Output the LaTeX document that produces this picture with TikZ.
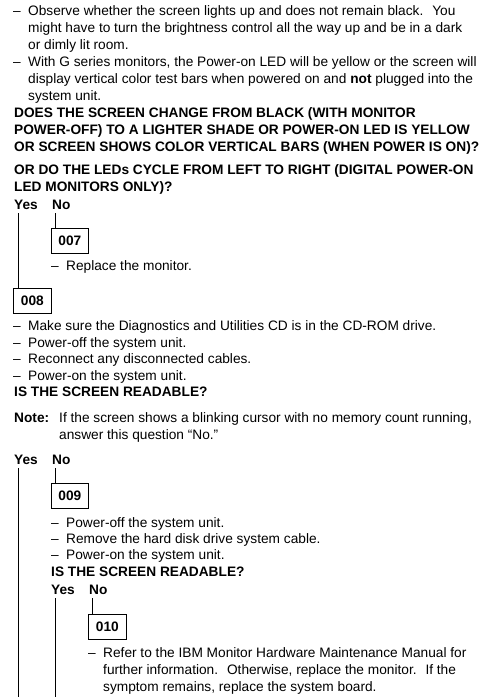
\documentclass[tikz,border=0pt]{standalone}
\usepackage{fontspec}
\setmainfont{Liberation Sans}
\usepackage{tikz}
\usetikzlibrary{positioning,calc}

\newcommand{\dsh}{\makebox[15pt][l]{–}}
\newcommand{\bodyfont}{\fontsize{13.7}{16}\selectfont}

\begin{document}
\begin{tikzpicture}[
    x=1pt, y=-1pt,
    txt/.style={anchor=base west, inner sep=0pt, font=\bodyfont},
    hd/.style={txt, font=\bodyfont\bfseries},
    yn/.style={hd, text depth=3.5pt},
    numbox/.style={draw, line width=0.8pt, anchor=north west, minimum width=37pt, minimum height=24.5pt, inner sep=0pt, font=\bodyfont\bfseries},
    link/.style={line width=0.8pt}
]
\useasboundingbox (0,0) rectangle (489,697);

% === first check ===
\node[txt] (t1) at (13,15.5) {\dsh Observe whether the screen lights up and does not remain black.~ You};
\node[txt] (t2) at (28,32.5) {might have to turn the brightness control all the way up and be in a dark};
\node[txt] (t3) at (28,49.5) {or dimly lit room.};
\node[txt] (t4) at (13,66.5) {\dsh With G series monitors, the Power-on LED will be yellow or the screen will};
\node[txt] (t5) at (28,83.5) {display vertical color test bars when powered on and \textbf{not} plugged into the};
\node[txt] (t6) at (28,100.5) {system unit.};

\node[hd] (q1) at (14,117.5) {DOES THE SCREEN CHANGE FROM BLACK (WITH MONITOR};
\node[hd] (q2) at (14,134.5) {POWER-OFF) TO A LIGHTER SHADE OR POWER-ON LED IS YELLOW};
\node[hd] (q3) at (14,151.5) {OR SCREEN SHOWS COLOR VERTICAL BARS (WHEN POWER IS ON)?};
\node[hd] (q4) at (14,174.5) {OR DO THE LEDs CYCLE FROM LEFT TO RIGHT (DIGITAL POWER-ON};
\node[hd] (q5) at (14,191.5) {LED MONITORS ONLY)?};

\node[yn] (yesA) at (14,209.5) {Yes};
\node[yn] (noA) at (52,209.5) {No};

\node[numbox] (b007) at (51,228) {007};
\node[txt] (r1) at (51,270.5) {\dsh Replace the monitor.};

\node[numbox, minimum width=38pt] (b008) at (13,288) {008};

\draw[link] ([xshift=3.5pt]noA.south west) -- ([xshift=3.5pt]noA.south west |- b007.north);
\draw[link] ([xshift=4.5pt]yesA.south west) -- ([xshift=4.5pt]yesA.south west |- b008.north);

% === second check ===
\node[txt] (s1) at (13,330.5) {\dsh Make sure the Diagnostics and Utilities CD is in the CD-ROM drive.};
\node[txt] (s2) at (13,347.5) {\dsh Power-off the system unit.};
\node[txt] (s3) at (13,363.5) {\dsh Reconnect any disconnected cables.};
\node[txt] (s4) at (13,380.5) {\dsh Power-on the system unit.};
\node[hd] (q6) at (14,396.5) {IS THE SCREEN READABLE?};
\node[txt] (n1) at (14,422.5) {\makebox[45pt][l]{\textbf{Note:}}If the screen shows a blinking cursor with no memory count running,};
\node[txt] (n2) at (59,439.5) {answer this question “No.”};

\node[yn] (yesB) at (14,464.5) {Yes};
\node[yn] (noB) at (52,464.5) {No};

\node[numbox] (b009) at (51,483) {009};
\node[txt] (u1) at (51,527.5) {\dsh Power-off the system unit.};
\node[txt] (u2) at (51,543.5) {\dsh Remove the hard disk drive system cable.};
\node[txt] (u3) at (51,559.5) {\dsh Power-on the system unit.};
\node[hd] (q7) at (51,576.5) {IS THE SCREEN READABLE?};

\node[yn] (yesC) at (51,594.5) {Yes};
\node[yn] (noC) at (89,594.5) {No};

\node[numbox, minimum width=38pt] (b010) at (88,614) {010};
\node[txt] (v1) at (88,657) {\dsh Refer to the IBM Monitor Hardware Maintenance Manual for};
\node[txt] (v2) at (103,674) {further information.~ Otherwise, replace the monitor.~ If the};
\node[txt] (v3) at (103,691) {symptom remains, replace the system board.};

\coordinate (endB) at (0,697);

\draw[link] ([xshift=3.5pt]noB.south west) -- ([xshift=3.5pt]noB.south west |- b009.north);
\draw[link] ([xshift=4.5pt]yesB.south west) -- ([xshift=4.5pt]yesB.south west |- endB);
\draw[link] ([xshift=3.5pt]noC.south west) -- ([xshift=3.5pt]noC.south west |- b010.north);
\draw[link] ([xshift=4.5pt]yesC.south west) -- ([xshift=4.5pt]yesC.south west |- endB);

\end{tikzpicture}
\end{document}
